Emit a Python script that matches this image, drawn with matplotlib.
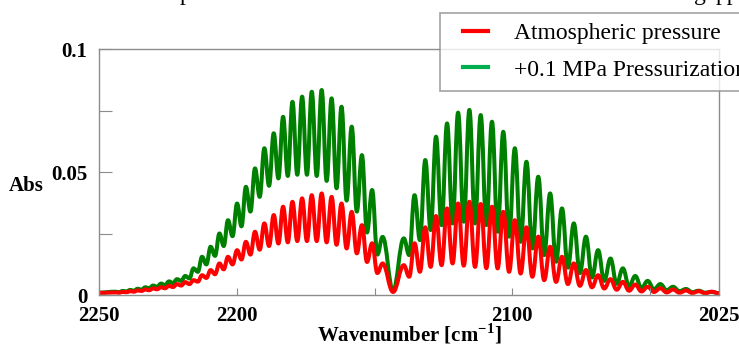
import matplotlib
matplotlib.use('Agg')
import matplotlib.pyplot as plt
from matplotlib.lines import Line2D
from matplotlib.path import Path
from matplotlib.patches import PathPatch
from matplotlib.legend_handler import HandlerLine2D
import numpy as np

plt.rcParams['font.family'] = ['Liberation Serif', 'DejaVu Serif']
plt.rcParams['mathtext.fontset'] = 'custom'
plt.rcParams['mathtext.rm'] = 'Liberation Serif:bold'
plt.rcParams['mathtext.bf'] = 'Liberation Serif:bold'

# CO rotational lines (cm-1), R branch R30..R0 then P branch P1..P27
r_lines = [2244.1, 2241.4, 2238.7, 2236.0, 2233.2, 2230.4, 2227.5, 2224.6, 2221.7, 2218.7,
           2215.7, 2212.6, 2209.5, 2206.3, 2203.2, 2199.9, 2196.7, 2193.4, 2190.0, 2186.6,
           2183.2, 2179.8, 2176.3, 2172.8, 2169.2, 2165.6, 2162.0, 2158.3, 2154.6, 2150.9, 2147.1]
p_lines = [2139.4, 2135.5, 2131.6, 2127.7, 2123.7, 2119.7, 2115.6, 2111.5, 2107.4, 2103.3,
           2099.1, 2094.9, 2090.6, 2086.3, 2082.0, 2077.7, 2073.3, 2068.9, 2064.4, 2059.9,
           2055.4, 2050.9, 2046.3, 2041.7, 2037.0, 2032.4, 2027.7]
band_gap = 2143.3
x_start, x_end = 2250.0, 2025.0

# +0.1 MPa pressurization (green)
g_r_peak = [0.0014, 0.0017, 0.0021, 0.0026, 0.0032, 0.0039, 0.0047, 0.0056, 0.0065, 0.0078,
            0.0109, 0.0156, 0.0197, 0.0251, 0.0305, 0.0373, 0.0441, 0.0516, 0.0598, 0.0659,
            0.0726, 0.0787, 0.0808, 0.0828, 0.0835, 0.0801, 0.0767, 0.0686, 0.0570, 0.0428, 0.0237]
g_r_trough = [0.0012, 0.0015, 0.0018, 0.0022, 0.0028, 0.0034, 0.0041, 0.0049, 0.0058, 0.0068,
              0.0095, 0.0125, 0.0160, 0.0200, 0.0240, 0.0280, 0.0340, 0.0400, 0.0445, 0.0475,
              0.0485, 0.0490, 0.0490, 0.0485, 0.0465, 0.0435, 0.0385, 0.0340, 0.0255, 0.0165]
g_p_peak = [0.0231, 0.0407, 0.0550, 0.0645, 0.0699, 0.0743, 0.0754, 0.0733, 0.0706, 0.0665,
            0.0598, 0.0543, 0.0482, 0.0414, 0.0353, 0.0292, 0.0238, 0.0183, 0.0149, 0.0109,
            0.0078, 0.0058, 0.0045, 0.0034, 0.0025, 0.0018, 0.0013]
g_p_trough = [0.0163, 0.0224, 0.0265, 0.0285, 0.0292, 0.0299, 0.0292, 0.0285, 0.0258, 0.0238,
              0.0217, 0.0190, 0.0163, 0.0136, 0.0112, 0.0090, 0.0072, 0.0058, 0.0046, 0.0036,
              0.0029, 0.0024, 0.0020, 0.0016, 0.0012, 0.0010]
g_gap, g_start, g_end = 0.0018, 0.0010, 0.0008

# atmospheric pressure (red)
r_r_peak = [0.0011, 0.0013, 0.0016, 0.0019, 0.0023, 0.0027, 0.0032, 0.0038, 0.0045, 0.0053,
            0.0061, 0.0081, 0.0102, 0.0129, 0.0156, 0.0183, 0.0217, 0.0258, 0.0292, 0.0326,
            0.0360, 0.0380, 0.0394, 0.0407, 0.0414, 0.0400, 0.0373, 0.0339, 0.0285, 0.0211, 0.0129]
r_r_trough = [0.0010, 0.0012, 0.0014, 0.0017, 0.0020, 0.0024, 0.0028, 0.0033, 0.0039, 0.0045,
              0.0055, 0.0070, 0.0085, 0.0105, 0.0125, 0.0145, 0.0165, 0.0185, 0.0200, 0.0210,
              0.0215, 0.0220, 0.0220, 0.0220, 0.0215, 0.0205, 0.0190, 0.0170, 0.0135, 0.0090]
r_p_peak = [0.0122, 0.0211, 0.0276, 0.0322, 0.0353, 0.0373, 0.0380, 0.0371, 0.0360, 0.0339,
            0.0305, 0.0276, 0.0238, 0.0197, 0.0156, 0.0129, 0.0102, 0.0081, 0.0065, 0.0054,
            0.0043, 0.0034, 0.0028, 0.0023, 0.0019, 0.0016, 0.0014]
r_p_trough = [0.0075, 0.0095, 0.0115, 0.0122, 0.0129, 0.0120, 0.0115, 0.0110, 0.0109, 0.0095,
              0.0088, 0.0075, 0.0061, 0.0054, 0.0045, 0.0038, 0.0032, 0.0027, 0.0022, 0.0018,
              0.0015, 0.0013, 0.0011, 0.0010, 0.0009, 0.0008]
r_gap, r_start, r_end = 0.0013, 0.0009, 0.0007


def spectrum(r_pk, r_tr, gap, p_pk, p_tr, start, end):
    # peaks on the lines, troughs halfway between neighbouring lines
    xs, ys = [x_start], [start]
    for i, w in enumerate(r_lines):
        xs.append(w); ys.append(r_pk[i])
        if i < len(r_tr):
            xs.append((w + r_lines[i + 1]) / 2); ys.append(r_tr[i])
    xs.append(band_gap); ys.append(gap)
    for i, w in enumerate(p_lines):
        xs.append(w); ys.append(p_pk[i])
        if i < len(p_tr):
            xs.append((w + p_lines[i + 1]) / 2); ys.append(p_tr[i])
    xs.append(x_end); ys.append(end)
    return xs, ys


def smooth(xs, ys):
    # bezier segments with flat tangents at every peak / trough
    verts, codes = [(xs[0], ys[0])], [Path.MOVETO]
    for i in range(len(xs) - 1):
        dx = xs[i + 1] - xs[i]
        verts += [(xs[i] + 0.4 * dx, ys[i]), (xs[i + 1] - 0.4 * dx, ys[i + 1]), (xs[i + 1], ys[i + 1])]
        codes += [Path.CURVE4] * 3
    return Path(verts, codes)


fig = plt.figure(figsize=(7.39, 3.46), dpi=100)
ax = fig.add_axes([0.134, 0.147, 0.839, 0.710])

for args, col in [((g_r_peak, g_r_trough, g_gap, g_p_peak, g_p_trough, g_start, g_end), '#008000'),
                  ((r_r_peak, r_r_trough, r_gap, r_p_peak, r_p_trough, r_start, r_end), '#ff0000')]:
    xs, ys = spectrum(*args)
    ax.add_patch(PathPatch(smooth(xs, ys), fill=False, edgecolor=col, lw=2.9,
                           joinstyle='round', capstyle='round'))

ax.set_xlim(2250, 2025)
ax.set_ylim(0, 0.1)
ax.set_xticks([2250, 2200, 2150, 2100, 2050, 2025],
              labels=['2250', '2200', '', '2100', '', '2025'])
ax.set_yticks([0, 0.025, 0.05, 0.075, 0.1], labels=['0', '', '0.05', '', '0.1'])

gray = '#8c8c8c'
for s in ax.spines.values():
    s.set_color(gray)
    s.set_linewidth(1.0)
ax.tick_params(axis='x', direction='in', length=5, color=gray, pad=8, labelsize=15)
ax.tick_params(axis='y', direction='in', length=9, color=gray, pad=8.5, labelsize=15)
for lab in ax.get_xticklabels() + ax.get_yticklabels():
    lab.set_fontweight('bold')

ax.set_xlabel('Wavenumber [cm$^{-1}$]', fontsize=15, fontweight='bold', labelpad=-3.5)
ax.set_ylabel('Abs', fontsize=15, fontweight='bold', rotation=0, ha='center', va='center')
ax.yaxis.set_label_coords(-0.118, 0.444)

handles = [Line2D([], [], color='#ff0000', lw=3),
           Line2D([], [], color='#00b050', lw=3)]
leg = fig.legend(handles, ['Atmospheric pressure', '+0.1 MPa Pressurization'],
                 loc='upper left', bbox_to_anchor=(440 / 739, 1 - 13 / 346),
                 fontsize=17, frameon=True, fancybox=False, edgecolor=gray,
                 handlelength=1.61, handletextpad=1.1, borderpad=0.42,
                 labelspacing=0.62, borderaxespad=0,
                 handler_map={Line2D: HandlerLine2D(xpad=0.55)})
leg.get_frame().set_linewidth(1.2)

# clipped line of text above the figure
fig.text(185 / 739, 1.0, 'p', fontsize=17, va='baseline', ha='center')
fig.text(700 / 739, 1.0, 'g', fontsize=17, va='baseline', ha='center')
fig.text(727 / 739, 1.0, 'pp', fontsize=17, va='baseline', ha='center')

fig.savefig('out.png', dpi=100)
